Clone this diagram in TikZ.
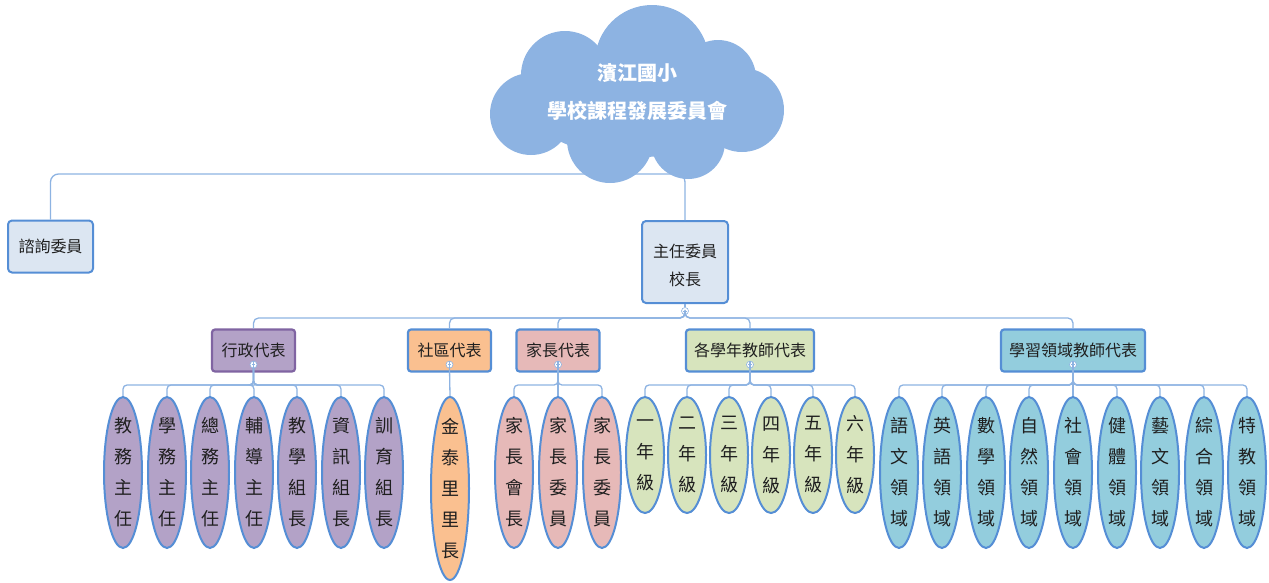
\documentclass[tikz,border=0pt]{standalone}
\usepackage{fontspec}
\setmainfont{Noto Sans CJK TC}
\usetikzlibrary{shapes.geometric}
\definecolor{conncol}{HTML}{8DB3E2}
\definecolor{bordercol}{HTML}{558ED5}
\definecolor{cloudcol}{HTML}{8DB3E2}
\definecolor{boxblue}{HTML}{DCE6F2}
\definecolor{purplefill}{HTML}{B3A2C7}
\definecolor{purpleline}{HTML}{8064A2}
\definecolor{orangefill}{HTML}{FAC090}
\definecolor{pinkfill}{HTML}{E6B9B8}
\definecolor{greenfill}{HTML}{D7E4BD}
\definecolor{aquafill}{HTML}{93CDDD}
\definecolor{txtcol}{HTML}{1F1F1F}
\tikzset{
  conn/.style={draw=conncol, line width=1.3, rounded corners=5},
  topbox/.style={draw=bordercol, line width=2, rounded corners=4, fill=boxblue,
    text=txtcol, inner sep=0, align=center, font=\fontsize{16}{28}\selectfont},
  grpbox/.style={draw=bordercol, line width=2.2, rounded corners=3, text=txtcol,
    inner sep=0, minimum height=42, font=\fontsize{16}{18}\selectfont},
  kidshape/.style={ellipse, draw=bordercol, line width=2, minimum width=38, inner sep=0},
  kidtext/.style={align=center, text=txtcol, inner sep=0, font=\fontsize{18}{31}\selectfont},
  collapsebtn/.style={circle, draw=conncol, fill=white, line width=0.6, minimum size=7, inner sep=0,
    path picture={\draw[conncol, line width=0.6] ([xshift=-1.8pt]path picture bounding box.center) -- ([xshift=1.8pt]path picture bounding box.center);}},
}
\newcommand\kidnode[5]{%
  \node[kidshape, fill=#4, minimum height=#3] (#1) at (#2,{397+#3/2}) {};
  \node[kidtext] at (#1.center) {#5};
}
\begin{document}
\begin{tikzpicture}[x=1pt,y=-1pt]
\useasboundingbox (0,0) rectangle (1269,582);
% cloud
\coordinate (bar0) at (0,174);
\fill[cloudcol] (640,105) ellipse [x radius=112, y radius=52];
\fill[cloudcol] (652,62) circle (57);
\fill[cloudcol] (565,75) circle (44);
\fill[cloudcol] (531,114) circle (41);
\fill[cloudcol] (610,140) circle (43);
\fill[cloudcol] (688,142) circle (37);
\fill[cloudcol] (742,110) circle (42);
\fill[cloudcol] (718,78) circle (38);
\node[text=white, font=\bfseries\fontsize{20}{38}\selectfont, align=center] (cloud) at (637,92) {濱江國小\\學校課程發展委員會};
% level 1
\node[topbox, minimum width=85, minimum height=52] (zx) at (50.5,246.5) {諮詢委員};
\node[topbox, minimum width=86, minimum height=82] (zr) at (685,262) {};
\node[align=center, text=txtcol, inner sep=0, font=\fontsize{16}{28}\selectfont] at (685,265) {主任委員\\校長};
\draw[conn, rounded corners=8] (zx.north) |- (zr.north |- bar0) -- (zr.north);
\node[collapsebtn] (m0) at (685,311) {};
\draw[conn] (zr.south) -- (m0.north);
% level 2
\coordinate (bar1) at (0,318);
\coordinate (bar3) at (0,385);
\node[grpbox, fill=purplefill, draw=purpleline, minimum width=83] (ga) at (253.5,350.5) {行政代表};
\node[grpbox, fill=orangefill, minimum width=83] (gb) at (449.5,350.5) {社區代表};
\node[grpbox, fill=pinkfill, minimum width=83] (gc) at (558,350.5) {家長代表};
\node[grpbox, fill=greenfill, minimum width=128] (gd) at (750,350.5) {各學年教師代表};
\node[grpbox, fill=aquafill, minimum width=144] (ge) at (1073,350.5) {學習領域教師代表};
\foreach \g in {ga,gb,gc,gd,ge}{
  \draw[conn] (m0.south) |- (\g.north |- bar1) -- (\g.north);
  \node[collapsebtn] (m\g) at ([yshift=8]\g.south) {};
  \draw[conn] (\g.south) -- (m\g.north);
}
% level 3 children
\kidnode{a1}{123}{151}{purplefill}{教\\務\\主\\任}
\kidnode{a2}{167}{151}{purplefill}{學\\務\\主\\任}
\kidnode{a3}{210}{151}{purplefill}{總\\務\\主\\任}
\kidnode{a4}{254}{151}{purplefill}{輔\\導\\主\\任}
\kidnode{a5}{297}{151}{purplefill}{教\\學\\組\\長}
\kidnode{a6}{341}{151}{purplefill}{資\\訊\\組\\長}
\kidnode{a7}{384}{151}{purplefill}{訓\\育\\組\\長}
\kidnode{b1}{450}{183}{orangefill}{金\\泰\\里\\里\\長}
\kidnode{c1}{514}{151}{pinkfill}{家\\長\\會\\長}
\kidnode{c2}{558}{151}{pinkfill}{家\\長\\委\\員}
\kidnode{c3}{602}{151}{pinkfill}{家\\長\\委\\員}
\kidnode{d1}{645}{116}{greenfill}{一\\年\\級}
\kidnode{d2}{687}{116}{greenfill}{二\\年\\級}
\kidnode{d3}{729}{116}{greenfill}{三\\年\\級}
\kidnode{d4}{771}{116}{greenfill}{四\\年\\級}
\kidnode{d5}{813}{116}{greenfill}{五\\年\\級}
\kidnode{d6}{855}{116}{greenfill}{六\\年\\級}
\kidnode{e1}{899}{151}{aquafill}{語\\文\\領\\域}
\kidnode{e2}{942}{151}{aquafill}{英\\語\\領\\域}
\kidnode{e3}{986}{151}{aquafill}{數\\學\\領\\域}
\kidnode{e4}{1029}{151}{aquafill}{自\\然\\領\\域}
\kidnode{e5}{1073}{151}{aquafill}{社\\會\\領\\域}
\kidnode{e6}{1117}{151}{aquafill}{健\\體\\領\\域}
\kidnode{e7}{1160}{151}{aquafill}{藝\\文\\領\\域}
\kidnode{e8}{1204}{151}{aquafill}{綜\\合\\領\\域}
\kidnode{e9}{1247}{151}{aquafill}{特\\教\\領\\域}
\foreach \c in {a1,a2,a3,a4,a5,a6,a7}{\draw[conn, rounded corners=4] (mga.south) |- (\c.north |- bar3) -- (\c.north);}
\draw[conn] (mgb.south) -- (b1.north);
\foreach \c in {c1,c2,c3}{\draw[conn, rounded corners=4] (mgc.south) |- (\c.north |- bar3) -- (\c.north);}
\foreach \c in {d1,d2,d3,d4,d5,d6}{\draw[conn, rounded corners=4] (mgd.south) |- (\c.north |- bar3) -- (\c.north);}
\foreach \c in {e1,e2,e3,e4,e5,e6,e7,e8,e9}{\draw[conn, rounded corners=4] (mge.south) |- (\c.north |- bar3) -- (\c.north);}
\end{tikzpicture}
\end{document}
